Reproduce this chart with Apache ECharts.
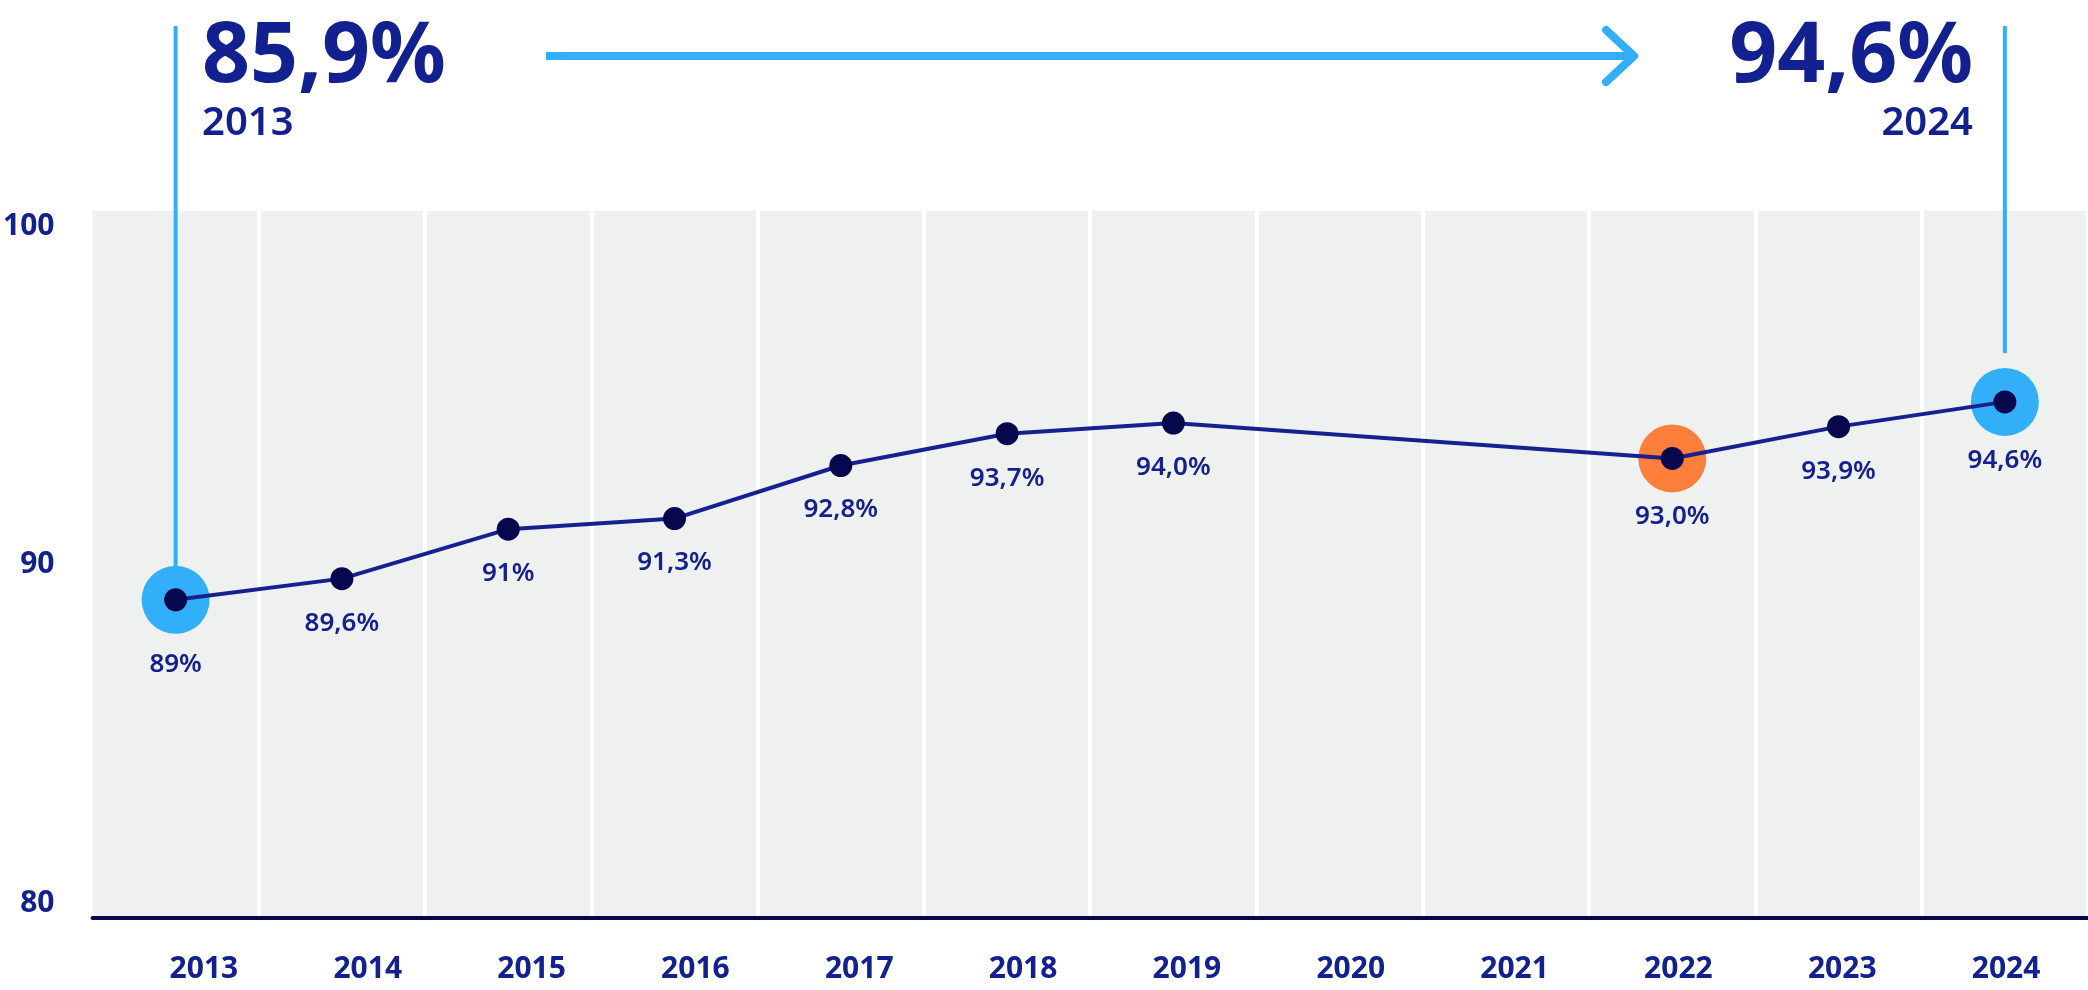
<!DOCTYPE html>
<html>
<head>
<meta charset="utf-8">
<script src="https://cdn.jsdelivr.net/npm/echarts@6/dist/echarts.min.js"></script>
<style>
html,body{margin:0;padding:0;background:#ffffff;}
#c{width:2088px;height:990px;}
</style>
</head>
<body>
<div id="c"></div>
<script>
// ---- data ----
const years = ['2013','2014','2015','2016','2017','2018','2019','2020','2021','2022','2023','2024'];
const rates = [89.0, 89.6, 91.0, 91.3, 92.8, 93.7, 94.0, null, null, 93.0, 93.9, 94.6];
const rateLabels = ['89%','89,6%','91%','91,3%','92,8%','93,7%','94,0%','','','93,0%','93,9%','94,6%'];
const highlightYears = ['2013','2022','2024'];
const highlightValues = [89.0, 93.0, 94.6];
const yMin = 80, yMax = 100, yStep = 10;
const startValueText = '85,9%';
const startYearText = '2013';
const endValueText = '94,6%';
const endYearText = '2024';

// ---- style ----
const NAVY = '#13208f';
const DOT = '#07074d';
const LINE = '#17208f';
const BLUE = '#33aef8';
const ORANGE = '#fd7f3b';
const BG = '#eff1f0';
const highlightColors = [BLUE, ORANGE, BLUE];
const FONT = '"Noto Sans", sans-serif';

const chart = echarts.init(document.getElementById('c'), null, {renderer: 'canvas'});

const lineData = rates.map((v, i) => {
  const big = highlightYears.indexOf(years[i]) >= 0;
  return { value: v, label: { distance: big ? (years[i] === '2013' ? 40 : 34) : 20 } };
});

const option = {
  backgroundColor: '#ffffff',
  animation: false,
  grid: [
    { left: 89, right: 0, top: 211, bottom: 72, show: true, backgroundColor: BG, borderWidth: 0, containLabel: false },
    { left: 122, width: 1986, top: 211, bottom: 72, show: false, containLabel: false }
  ],
  xAxis: [
    {
      type: 'category', gridIndex: 0, data: years, boundaryGap: true,
      axisLine: { show: true, lineStyle: { color: DOT, width: 4 } },
      axisTick: { show: false },
      axisLabel: { show: false },
      splitLine: { show: true, interval: (idx) => idx !== 0, lineStyle: { color: '#ffffff', width: 4 } }
    },
    {
      type: 'category', gridIndex: 1, data: years, boundaryGap: true,
      axisLine: { show: false }, axisTick: { show: false },
      splitLine: { show: false },
      axisLabel: { show: true, color: NAVY, fontFamily: FONT, fontWeight: 'bold', fontSize: 30, margin: 36 }
    }
  ],
  yAxis: [
    {
      type: 'value', gridIndex: 0, min: yMin, max: yMax, interval: yStep,
      axisLine: { show: false }, axisTick: { show: false },
      splitLine: { show: false },
      axisLabel: {
        show: true, color: NAVY, fontFamily: FONT, fontWeight: 'bold', fontSize: 30, margin: 38,
        verticalAlignMinLabel: 'bottom', verticalAlignMaxLabel: 'top'
      }
    },
    { type: 'value', gridIndex: 1, show: false }
  ],
  series: [
    {
      type: 'scatter', xAxisIndex: 0, yAxisIndex: 0, z: 1,
      symbol: 'circle', symbolSize: 68, silent: true,
      data: highlightYears.map((y, i) => ({ value: [y, highlightValues[i]], itemStyle: { color: highlightColors[i], opacity: 1 } }))
    },
    {
      type: 'line', xAxisIndex: 0, yAxisIndex: 0, z: 3,
      data: lineData, connectNulls: true,
      symbol: 'circle', symbolSize: 23, showSymbol: true,
      lineStyle: { color: LINE, width: 4 },
      itemStyle: { color: DOT, opacity: 1 },
      label: {
        show: true, position: 'bottom', color: NAVY, fontFamily: FONT, fontWeight: 600, fontSize: 26,
        formatter: p => rateLabels[p.dataIndex]
      }
    }
  ]
};
chart.setOption(option);

// annotation lines anchored on data points via library conversion
const iS = years.indexOf(startYearText), iE = years.indexOf(endYearText);
const pStart = chart.convertToPixel({ seriesIndex: 1 }, [iS, rates[iS]]);
const pEnd = chart.convertToPixel({ seriesIndex: 1 }, [iE, rates[iE]]);

chart.setOption({
  graphic: [
    { type: 'line', z: 0, shape: { x1: pStart[0], y1: 26, x2: pStart[0], y2: pStart[1] - 30 }, style: { stroke: BLUE, lineWidth: 4 } },
    { type: 'line', z: 0, shape: { x1: pEnd[0], y1: 26, x2: pEnd[0], y2: pEnd[1] - 49 }, style: { stroke: BLUE, lineWidth: 4 } },
    { type: 'line', shape: { x1: 546, y1: 56, x2: 1632, y2: 56 }, style: { stroke: BLUE, lineWidth: 8, lineCap: 'butt' } },
    { type: 'polyline', shape: { points: [[1606, 30], [1634, 56], [1606, 82]] }, style: { stroke: BLUE, lineWidth: 8, lineCap: 'round', lineJoin: 'round', fill: null } },
    { type: 'text', x: 202, y: 58, style: { text: startValueText, fill: NAVY, font: 'bold 84px "Noto Sans", sans-serif', textAlign: 'left', textVerticalAlign: 'middle' } },
    { type: 'text', x: 202, y: 124, style: { text: startYearText, fill: NAVY, font: '600 40px "Noto Sans", sans-serif', textAlign: 'left', textVerticalAlign: 'middle' } },
    { type: 'text', x: 1973, y: 58, style: { text: endValueText, fill: NAVY, font: 'bold 84px "Noto Sans", sans-serif', textAlign: 'right', textVerticalAlign: 'middle' } },
    { type: 'text', x: 1973, y: 124, style: { text: endYearText, fill: NAVY, font: '600 40px "Noto Sans", sans-serif', textAlign: 'right', textVerticalAlign: 'middle' } }
  ]
});
</script>
</body>
</html>
